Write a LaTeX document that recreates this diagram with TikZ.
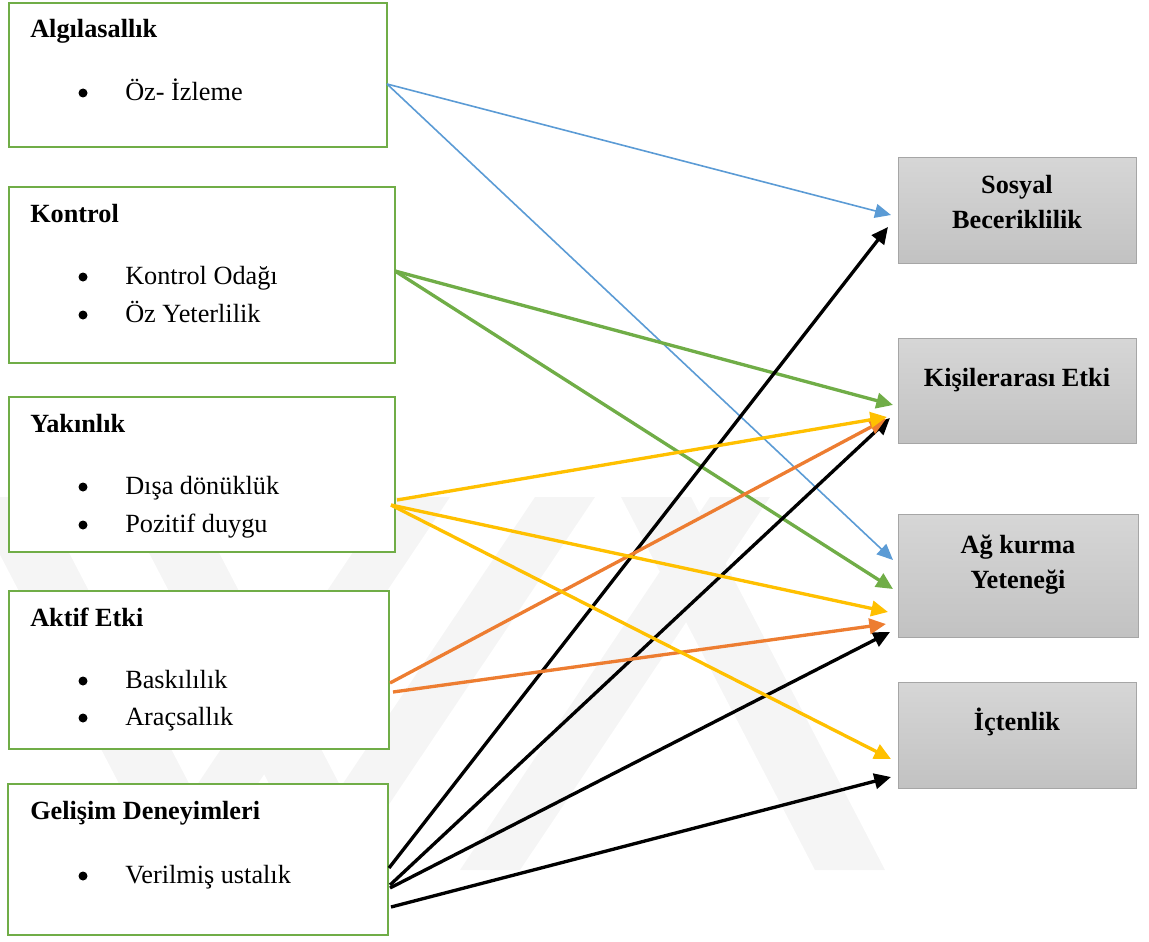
\documentclass[tikz,border=0pt]{standalone}
\usepackage{fontspec}
\setmainfont{Liberation Serif}
\usetikzlibrary{arrows.meta,calc}
\definecolor{boxgreen}{HTML}{70AD47}
\definecolor{lnblue}{HTML}{5B9BD5}
\definecolor{lngreen}{HTML}{70AD47}
\definecolor{lnyellow}{HTML}{FFC000}
\definecolor{lnorange}{HTML}{ED7D31}
\definecolor{boxgray}{HTML}{A6A6A6}
\newdimen\pxu \pxu=0.75pt
\begin{document}
\begin{tikzpicture}[x=0.75pt,y=-0.75pt,
  font=\fontsize{19.7pt}{23pt}\selectfont,
  factor/.style={draw=boxgreen, fill=white, line width=1.6pt, inner sep=0pt, anchor=north west},
  outcome/.style={draw=boxgray, line width=0.8pt, inner sep=0pt, anchor=north west,
    top color=black!16, bottom color=black!24},
  ttl/.style={font=\fontsize{19.7pt}{23pt}\selectfont\bfseries, anchor=base west, inner sep=0pt},
  otxt/.style={font=\fontsize{19.7pt}{23pt}\selectfont\bfseries, anchor=base, inner sep=0pt},
  bul/.style={circle, fill=black, inner sep=0pt, minimum size=9\pxu},
  itm/.style={anchor=base west, inner sep=0pt},
  thin/.style={line width=1.2pt, -{Triangle[length=12pt,width=10.5pt]}},
  thick/.style={line width=2.5pt, -{Triangle[length=12.5pt,width=11.5pt]}},
  wm/.style={fill=black!4, draw=none}]
\useasboundingbox (0,0) rectangle (1149,942);

% faint background emblem
\fill[wm] (-30,497) -- (40,497) -- (234,870) -- (164,870) -- cycle;
\fill[wm] (120,497) -- (190,497) -- (384,870) -- (314,870) -- cycle;
\fill[wm] (140,870) -- (200,870) -- (450,497) -- (390,497) -- cycle;
\fill[wm] (285,870) -- (345,870) -- (595,497) -- (535,497) -- cycle;
\fill[wm] (460,870) -- (520,870) -- (770,497) -- (710,497) -- cycle;
\fill[wm] (621,497) -- (691,497) -- (885,870) -- (815,870) -- cycle;

% left-hand boxes
\node[factor, minimum width=378\pxu, minimum height=144\pxu] (alg) at (8,2) {};
\node[factor, minimum width=386\pxu, minimum height=176\pxu] (kon) at (8,186) {};
\node[factor, minimum width=386\pxu, minimum height=155\pxu] (yak) at (8,396) {};
\node[factor, minimum width=380\pxu, minimum height=158\pxu] (akt) at (8,590) {};
\node[factor, minimum width=380\pxu, minimum height=151\pxu] (gel) at (7,783) {};

\node[ttl] (algT) at (30,38) {Algılasallık};
\node[bul] (algB1) at (83,93) {};
\node[itm] (algI1) at (125,100) {Öz- İzleme};

\node[ttl] (konT) at (30,222) {Kontrol};
\node[bul] (konB1) at (83,277) {};
\node[itm] (konI1) at (125,284) {Kontrol Odağı};
\node[bul] (konB2) at (83,315) {};
\node[itm] (konI2) at (125,322) {Öz Yeterlilik};

\node[ttl] (yakT) at (30,432) {Yakınlık};
\node[bul] (yakB1) at (83,487) {};
\node[itm] (yakI1) at (125,494) {Dışa dönüklük};
\node[bul] (yakB2) at (83,525) {};
\node[itm] (yakI2) at (125,532) {Pozitif duygu};

\node[ttl] (aktT) at (30,626) {Aktif Etki};
\node[bul] (aktB1) at (83,681) {};
\node[itm] (aktI1) at (125,688) {Baskılılık};
\node[bul] (aktB2) at (83,718) {};
\node[itm] (aktI2) at (125,725) {Araçsallık};

\node[ttl] (gelT) at (30,819) {Gelişim Deneyimleri};
\node[bul] (gelB1) at (83,876) {};
\node[itm] (gelI1) at (125,883) {Verilmiş ustalık};

% right-hand boxes
\node[outcome, minimum width=238\pxu, minimum height=106\pxu] (soc) at (898,157) {};
\node[outcome, minimum width=238\pxu, minimum height=105\pxu] (kis) at (898,338) {};
\node[outcome, minimum width=240\pxu, minimum height=123\pxu] (ag) at (898,514) {};
\node[outcome, minimum width=238\pxu, minimum height=106\pxu] (ict) at (898,682) {};

\node[otxt] (socT1) at (1017,193) {Sosyal};
\node[otxt] (socT2) at (1017,228) {Beceriklilik};
\node[otxt] (kisT) at (1017,386) {Kişilerarası Etki};
\node[otxt] (agT1) at (1018,553) {Ağ kurma};
\node[otxt] (agT2) at (1018,588) {Yeteneği};
\node[otxt] (ictT) at (1017,730) {İçtenlik};

% connector ends on the left
\coordinate (algO) at (387,84);
\coordinate (konO) at (395,271);
\coordinate (yakO1) at (397,500);
\coordinate (yakO2) at (391,505);
\coordinate (aktO1) at (390,683);
\coordinate (aktO2) at (393,692);
\coordinate (gelO1) at (389,868);
\coordinate (gelO2) at (390,885);
\coordinate (gelO3) at (390,888);
\coordinate (gelO4) at (391,907);

% connector ends on the right
\coordinate (socA) at (891,215);
\coordinate (socB) at (888,227);
\coordinate (kisA) at (893,405);
\coordinate (kisB) at (887,417);
\coordinate (kisC) at (886,419);
\coordinate (kisD) at (890,418);
\coordinate (agA) at (893,560);
\coordinate (agB) at (893,589);
\coordinate (agC) at (888,612);
\coordinate (agD) at (886,624);
\coordinate (agE) at (890,632);
\coordinate (ictA) at (891,759);
\coordinate (ictB) at (891,777);

% connectors
\draw[thin, lnblue] (algO) -- (socA);
\draw[thin, lnblue] (algO) -- (agA);
\draw[thick, lngreen] (konO) -- (kisA);
\draw[thick, lngreen] (konO) -- (agB);
\draw[thick, black] (gelO1) -- (socB);
\draw[thick, black] (gelO2) -- (kisD);
\draw[thick, black] (gelO3) -- (agE);
\draw[thick, black] (gelO4) -- (ictB);
\draw[thick, lnorange] (aktO1) -- (kisC);
\draw[thick, lnorange] (aktO2) -- (agD);
\draw[thick, lnyellow] (yakO1) -- (kisB);
\draw[thick, lnyellow] (yakO2) -- (agC);
\draw[thick, lnyellow] (yakO2) -- (ictA);
\end{tikzpicture}
\end{document}
